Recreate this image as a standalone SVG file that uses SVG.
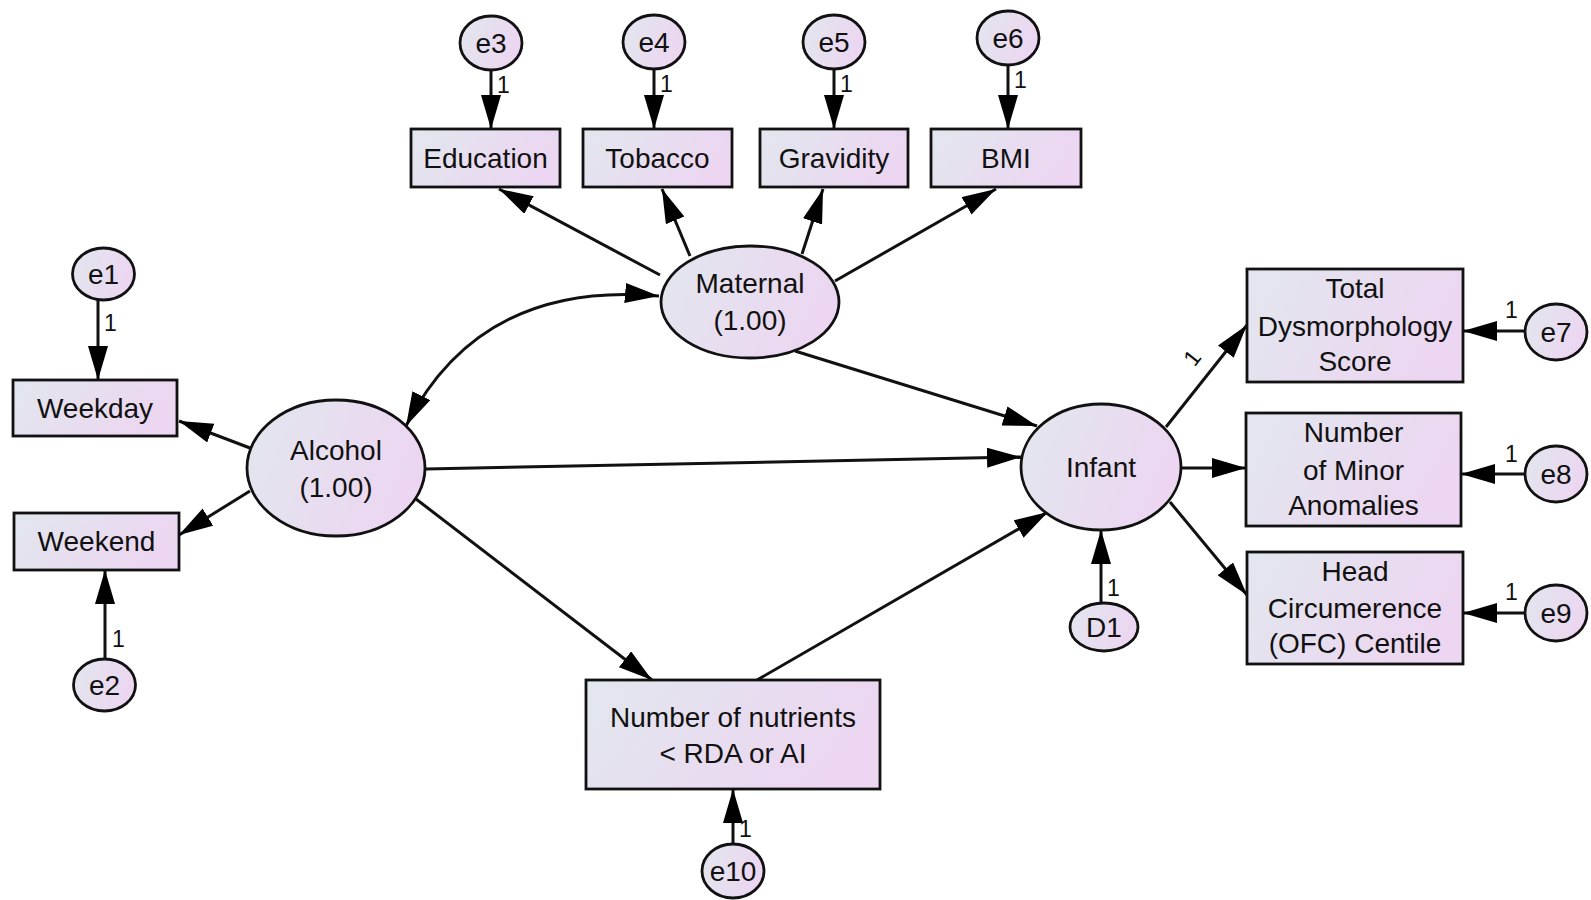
<svg xmlns="http://www.w3.org/2000/svg" width="1591" height="900" viewBox="0 0 1591 900">
<defs>
<linearGradient id="g" x1="0" y1="0" x2="1" y2="0.3">
<stop offset="0" stop-color="#e2e7ee"/>
<stop offset="1" stop-color="#ecd6f1"/>
</linearGradient>
<marker id="ah" markerUnits="userSpaceOnUse" markerWidth="36" markerHeight="22" refX="34" refY="10" orient="auto-start-reverse">
<path d="M0,0 L34,10 L0,20 z" fill="#000"/>
</marker>
<style>
.n{fill:url(#g);stroke:#111;stroke-width:2.8}
.t{font-family:"Liberation Sans",Arial,sans-serif;font-size:28px;fill:#111;text-anchor:middle}
.l{font-family:"Liberation Sans",Arial,sans-serif;font-size:23px;fill:#111}
.c{fill:none;stroke:#111;stroke-width:3;marker-end:url(#ah)}
</style>
</defs>
<rect width="1591" height="900" fill="#fff"/>
<g id="connectors">
<line class="c" x1="491" y1="70" x2="491" y2="129"/>
<line class="c" x1="654" y1="69" x2="654" y2="129"/>
<line class="c" x1="834" y1="69" x2="834" y2="129"/>
<line class="c" x1="1008" y1="65" x2="1008" y2="129"/>
<line class="c" x1="660" y1="275" x2="499" y2="189"/>
<line class="c" x1="690" y1="256" x2="662" y2="189"/>
<line class="c" x1="802" y1="254" x2="823" y2="189"/>
<line class="c" x1="835" y1="281" x2="996" y2="189"/>
<path class="c" d="M406,426 Q480,280 659,296" style="marker-start:url(#ah)"/>
<line class="c" x1="795" y1="351" x2="1037" y2="426"/>
<line class="c" x1="426" y1="469" x2="1021" y2="457"/>
<line class="c" x1="416" y1="499" x2="652" y2="680"/>
<line class="c" x1="757" y1="680" x2="1048" y2="512"/>
<line class="c" x1="250" y1="448" x2="179" y2="421"/>
<line class="c" x1="250" y1="491" x2="179" y2="535"/>
<line class="c" x1="98" y1="299" x2="98" y2="380"/>
<line class="c" x1="105" y1="659" x2="105" y2="570"/>
<line class="c" x1="1166" y1="427" x2="1247" y2="325"/>
<line class="c" x1="1181" y1="468" x2="1246" y2="468"/>
<line class="c" x1="1170" y1="502" x2="1247" y2="595"/>
<line class="c" x1="1101" y1="603" x2="1101" y2="530"/>
<line class="c" x1="1524" y1="331" x2="1463" y2="331"/>
<line class="c" x1="1524" y1="474" x2="1461" y2="474"/>
<line class="c" x1="1524" y1="613" x2="1463" y2="613"/>
<line class="c" x1="733" y1="844" x2="733" y2="789"/>
<text class="l" x="497" y="93">1</text>
<text class="l" x="660" y="92">1</text>
<text class="l" x="840" y="92">1</text>
<text class="l" x="1014" y="88">1</text>
<text class="l" x="104" y="331">1</text>
<text class="l" x="112" y="647">1</text>
<text class="l" x="1107" y="596">1</text>
<text class="l" x="1505" y="318">1</text>
<text class="l" x="1505" y="462">1</text>
<text class="l" x="1505" y="600">1</text>
<text class="l" x="739" y="837">1</text>
<text class="l" x="1186" y="366" transform="rotate(-52 1192 358)">1</text>
</g>
<g id="e3"><ellipse class="n" cx="491" cy="43" rx="31" ry="27"/><text class="t" x="491" y="53">e3</text></g>
<g id="e4"><ellipse class="n" cx="654" cy="42" rx="31" ry="27"/><text class="t" x="654" y="52">e4</text></g>
<g id="e5"><ellipse class="n" cx="834" cy="42" rx="31" ry="27"/><text class="t" x="834" y="52">e5</text></g>
<g id="e6"><ellipse class="n" cx="1008" cy="38" rx="31" ry="27"/><text class="t" x="1008" y="48">e6</text></g>
<g id="education"><rect class="n" x="411" y="129" width="149" height="58"/><text class="t" x="485.5" y="168">Education</text></g>
<g id="tobacco"><rect class="n" x="583" y="129" width="149" height="58"/><text class="t" x="657.5" y="168">Tobacco</text></g>
<g id="gravidity"><rect class="n" x="760" y="129" width="148" height="58"/><text class="t" x="834" y="168">Gravidity</text></g>
<g id="bmi"><rect class="n" x="931" y="129" width="150" height="58"/><text class="t" x="1006" y="168">BMI</text></g>
<g id="maternal"><ellipse class="n" cx="750" cy="302" rx="89" ry="56"/><text class="t" x="750" y="293">Maternal</text><text class="t" x="750" y="330">(1.00)</text></g>
<g id="e1"><ellipse class="n" cx="103.5" cy="274" rx="31" ry="26"/><text class="t" x="103.5" y="284">e1</text></g>
<g id="weekday"><rect class="n" x="13" y="380" width="164" height="56"/><text class="t" x="95" y="418">Weekday</text></g>
<g id="alcohol"><ellipse class="n" cx="336" cy="468" rx="89" ry="68"/><text class="t" x="336" y="460">Alcohol</text><text class="t" x="336" y="497">(1.00)</text></g>
<g id="weekend"><rect class="n" x="14" y="513" width="165" height="57"/><text class="t" x="96.5" y="551">Weekend</text></g>
<g id="e2"><ellipse class="n" cx="104.5" cy="685" rx="31" ry="26"/><text class="t" x="104.5" y="695">e2</text></g>
<g id="infant"><ellipse class="n" cx="1101" cy="467" rx="80" ry="63"/><text class="t" x="1101" y="477">Infant</text></g>
<g id="d1"><ellipse class="n" cx="1104" cy="627" rx="34" ry="24"/><text class="t" x="1104" y="637">D1</text></g>
<g id="total"><rect class="n" x="1247" y="269" width="216" height="113"/><text class="t" x="1355" y="298">Total</text><text class="t" x="1355" y="336">Dysmorphology</text><text class="t" x="1355" y="371">Score</text></g>
<g id="minor"><rect class="n" x="1246" y="413" width="215" height="113"/><text class="t" x="1353.5" y="442">Number</text><text class="t" x="1353.5" y="480">of Minor</text><text class="t" x="1353.5" y="515">Anomalies</text></g>
<g id="head"><rect class="n" x="1247" y="552" width="216" height="112"/><text class="t" x="1355" y="581">Head</text><text class="t" x="1355" y="618">Circumerence</text><text class="t" x="1355" y="653">(OFC) Centile</text></g>
<g id="e7"><ellipse class="n" cx="1556" cy="332" rx="31" ry="28"/><text class="t" x="1556" y="342">e7</text></g>
<g id="e8"><ellipse class="n" cx="1556" cy="474" rx="31" ry="28"/><text class="t" x="1556" y="484">e8</text></g>
<g id="e9"><ellipse class="n" cx="1556" cy="613" rx="31" ry="28"/><text class="t" x="1556" y="623">e9</text></g>
<g id="nutrients"><rect class="n" x="586" y="680" width="294" height="109"/><text class="t" x="733" y="727">Number of nutrients</text><text class="t" x="733" y="763">&lt; RDA or AI</text></g>
<g id="e10"><ellipse class="n" cx="733" cy="871" rx="31" ry="27"/><text class="t" x="733" y="881">e10</text></g>
</svg>
